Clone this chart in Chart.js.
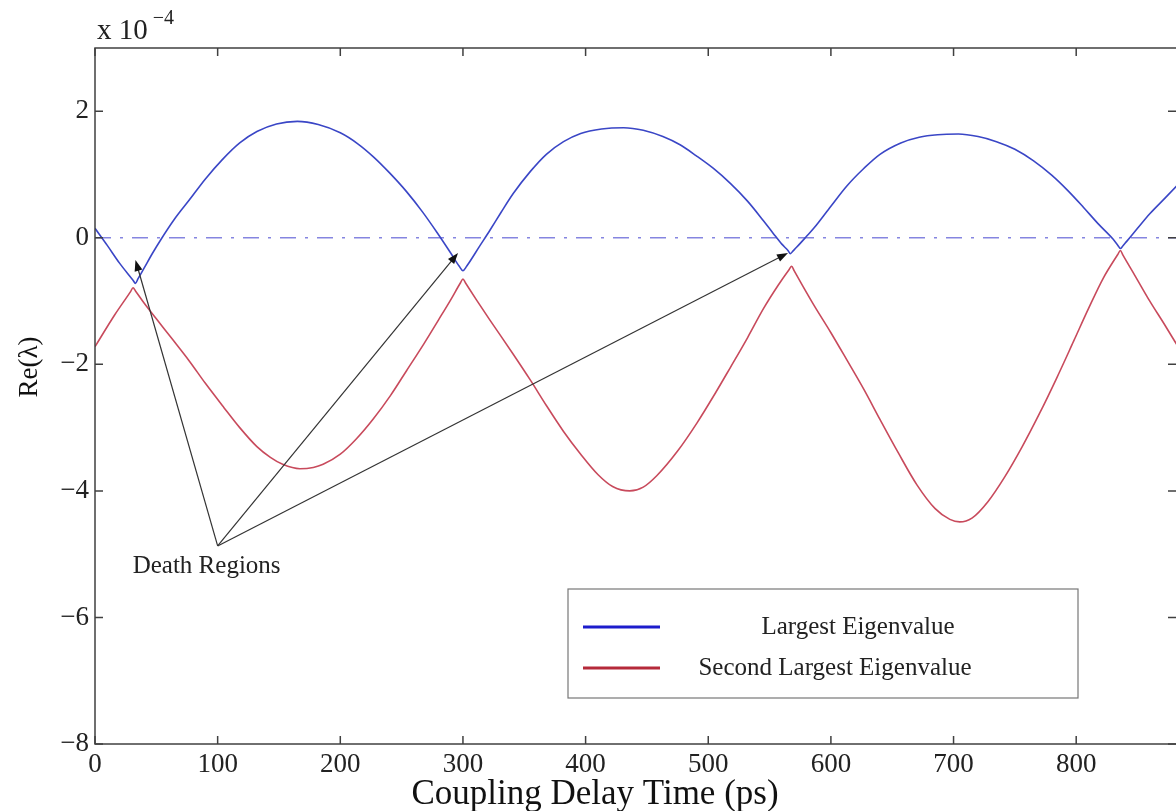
<!DOCTYPE html>
<html><head><meta charset="utf-8">
<script src="https://cdn.jsdelivr.net/npm/chart.js@4.4.1/dist/chart.umd.min.js"></script>
<style>html,body{margin:0;padding:0;background:#fff;overflow:hidden}#wrap{width:1178px;height:811px;position:relative}</style>
</head><body><div id="wrap"><canvas id="c"></canvas></div>
<script>
// ---- data (Re(lambda) in units of 1e-4) ----
const largestX = [0,10,20,31,33,35,40,47,53,65,77,90,104,118,132,148,165,182,200,214,227,240,254,267,279,290,297,300,303,314,322,331,341,355,368,382,396,413,431,447,463,477,490,504,518,532,545,553,560,565,567,569,572,580,586,600,613,627,640,657,672,687,704,720,735,750,765,780,793,806,818,830,834,836,838,841,850,860,872,883];
const largestY = [0.15,-0.12,-0.4,-0.67,-0.72,-0.65,-0.48,-0.24,-0.05,0.3,0.6,0.93,1.24,1.5,1.68,1.8,1.84,1.79,1.66,1.49,1.28,1.03,0.73,0.41,0.08,-0.24,-0.45,-0.52,-0.45,-0.12,0.12,0.4,0.7,1.05,1.32,1.52,1.65,1.72,1.74,1.7,1.6,1.47,1.3,1.1,0.86,0.58,0.27,0.07,-0.1,-0.2,-0.25,-0.21,-0.15,0.02,0.15,0.5,0.82,1.1,1.32,1.5,1.59,1.63,1.64,1.6,1.52,1.4,1.22,0.99,0.75,0.48,0.22,-0.02,-0.12,-0.17,-0.13,-0.06,0.15,0.38,0.62,0.84];
const secondX = [0,16,29,31,33,40,50,63,77,90,105,118,132,143,153,167,178,186,200,213,227,241,254,268,280,290,298,300,302,311,322,341,355,368,382,396,410,422,436,447,458,475,491,505,518,532,545,557,566,568,570,577,586,600,613,627,640,655,670,685,697,705,715,728,742,756,770,784,798,810,822,834,836,838,848,860,872,883];
const secondY = [-1.72,-1.22,-0.85,-0.79,-0.84,-1.03,-1.28,-1.6,-1.95,-2.3,-2.68,-3.0,-3.3,-3.47,-3.58,-3.65,-3.63,-3.58,-3.42,-3.18,-2.86,-2.49,-2.1,-1.68,-1.3,-0.98,-0.71,-0.65,-0.71,-0.98,-1.3,-1.84,-2.25,-2.65,-3.06,-3.42,-3.74,-3.93,-4.0,-3.94,-3.76,-3.37,-2.92,-2.48,-2.05,-1.58,-1.12,-0.75,-0.5,-0.45,-0.52,-0.76,-1.06,-1.5,-1.93,-2.4,-2.87,-3.4,-3.9,-4.28,-4.45,-4.49,-4.43,-4.17,-3.77,-3.3,-2.78,-2.22,-1.63,-1.12,-0.64,-0.26,-0.2,-0.27,-0.6,-1.0,-1.37,-1.72];
const zeroLineX = [0,883];
const zeroLineY = [0,0];
const xTicks = [0,100,200,300,400,500,600,700,800];
const yTicks = [-8,-6,-4,-2,0,2];
const seriesLabels = ['Largest Eigenvalue','Second Largest Eigenvalue'];
const xTitle = 'Coupling Delay Time (ps)';
const yTitle = 'Re(\u03bb)';
const exponentBase = 'x 10';
const exponentPower = '\u22124';
const annotationText = 'Death Regions';
const annotationPos = [91, -5.2];
const arrowFrom = [100, -4.87];
const arrowTipsX = [33, 296, 565];
const arrowTipsY = [-0.35, -0.24, -0.24];

const SERIF = '"Liberation Serif", "Times New Roman", serif';
const BLUE = '#3a46c6', RED = '#c84a5c';

function pts(xs, ys){ return xs.map((x,i)=>({x:x, y:ys[i]})); }

const overlay = {
  id:'overlay',
  afterDatasetsDraw(chart){
    const {ctx, chartArea:a, scales:{x,y}} = chart;
    ctx.save();
    // arrows
    ctx.strokeStyle = '#333'; ctx.fillStyle = '#111'; ctx.lineWidth = 1.2;
    const ox = x.getPixelForValue(arrowFrom[0]), oy = y.getPixelForValue(arrowFrom[1]);
    arrowTipsX.forEach((tx,i)=>{
      const px = x.getPixelForValue(tx), py = y.getPixelForValue(arrowTipsY[i]);
      const ang = Math.atan2(py-oy, px-ox);
      ctx.beginPath(); ctx.moveTo(ox,oy); ctx.lineTo(px - 6*Math.cos(ang), py - 6*Math.sin(ang)); ctx.stroke();
      const L = 11, W = 4;
      ctx.beginPath();
      ctx.moveTo(px,py);
      ctx.lineTo(px - L*Math.cos(ang) + W*Math.sin(ang), py - L*Math.sin(ang) - W*Math.cos(ang));
      ctx.lineTo(px - L*Math.cos(ang) - W*Math.sin(ang), py - L*Math.sin(ang) + W*Math.cos(ang));
      ctx.closePath(); ctx.fill();
    });
    ctx.fillStyle = '#222';
    ctx.font = '25px ' + SERIF; ctx.textAlign = 'center'; ctx.textBaseline = 'middle';
    ctx.fillText(annotationText, x.getPixelForValue(annotationPos[0]), y.getPixelForValue(annotationPos[1]));
    // legend box
    const bx = 568, by = 589, bw = 510, bh = 109;
    ctx.fillStyle = '#fff'; ctx.fillRect(bx,by,bw,bh);
    ctx.strokeStyle = '#777'; ctx.lineWidth = 1.2; ctx.strokeRect(bx,by,bw,bh);
    const rows = [[627, '#1c1ccc', 858], [668, '#b52a3a', 835]];
    rows.forEach((r,i)=>{
      ctx.strokeStyle = r[1]; ctx.lineWidth = 3;
      ctx.beginPath(); ctx.moveTo(583, r[0]); ctx.lineTo(660, r[0]); ctx.stroke();
      ctx.fillStyle = '#222'; ctx.font = '25px ' + SERIF; ctx.textAlign = 'center'; ctx.textBaseline = 'middle';
      ctx.fillText(chart.data.datasets[i].label, r[2], r[0]);
    });
    // frame with inward ticks
    ctx.strokeStyle = '#404040'; ctx.lineWidth = 1.5;
    ctx.strokeRect(a.left, a.top, a.right - a.left, a.bottom - a.top);
    ctx.beginPath();
    xTicks.forEach(v=>{ const p = x.getPixelForValue(v);
      ctx.moveTo(p, a.bottom); ctx.lineTo(p, a.bottom - 8);
      ctx.moveTo(p, a.top); ctx.lineTo(p, a.top + 8); });
    yTicks.forEach(v=>{ const p = y.getPixelForValue(v);
      ctx.moveTo(a.left, p); ctx.lineTo(a.left + 8, p);
      ctx.moveTo(a.right - 2, p); ctx.lineTo(a.right - 10, p); });
    ctx.stroke();
    // exponent label
    ctx.fillStyle = '#222'; ctx.textAlign = 'left'; ctx.textBaseline = 'alphabetic';
    ctx.font = '29px ' + SERIF; ctx.fillText(exponentBase, 97, 39);
    const w = ctx.measureText(exponentBase).width;
    ctx.font = '20px ' + SERIF; ctx.fillText(exponentPower, 97 + w + 5, 24);
    // axis titles
    ctx.fillStyle = '#111'; ctx.textAlign = 'center'; ctx.textBaseline = 'middle';
    ctx.font = '35px ' + SERIF; ctx.fillText(xTitle, 595, 795);
    ctx.translate(30, 367); ctx.rotate(-Math.PI/2);
    ctx.font = '27px ' + SERIF; ctx.fillText(yTitle, 0, 0);
    ctx.restore();
  }
};

new Chart(document.getElementById('c'), {
  type: 'scatter',
  data: { datasets: [
    { label: seriesLabels[0], data: pts(largestX, largestY), showLine:true, borderColor:BLUE, borderWidth:1.6, pointRadius:0, cubicInterpolationMode:'monotone' },
    { label: seriesLabels[1], data: pts(secondX, secondY), showLine:true, borderColor:RED, borderWidth:1.6, pointRadius:0, cubicInterpolationMode:'monotone' },
    { label: 'zero', data: pts(zeroLineX, zeroLineY), showLine:true, borderColor:'#8585e0', borderWidth:1.6, borderDash:[16,9,3,9], pointRadius:0 }
  ]},
  options: {
    responsive:true, maintainAspectRatio:false, animation:false,
    layout:{ padding:{ top:48, right:0, left:0, bottom:0 } },
    plugins:{ legend:{display:false}, tooltip:{enabled:false} },
    scales:{
      x:{ type:'linear', min:0, max:883,
        afterBuildTicks: s => { s.ticks = xTicks.map(v=>({value:v})); },
        afterFit: s => { s.height = 67; },
        grid:{ display:false, drawTicks:false }, border:{ display:false },
        ticks:{ color:'#222', font:{ family:SERIF, size:27 }, padding:5, maxRotation:0, autoSkip:false },
        title:{ display:false, text:xTitle }
      },
      y:{ type:'linear', min:-8, max:3,
        afterBuildTicks: s => { s.ticks = yTicks.map(v=>({value:v})); },
        afterFit: s => { s.width = 95; },
        grid:{ display:false, drawTicks:false }, border:{ display:false },
        ticks:{ color:'#222', font:{ family:SERIF, size:27 }, padding:6, autoSkip:false,
          callback: v => v < 0 ? '\u2212' + Math.abs(v) : String(v) },
        title:{ display:false, text:yTitle }
      }
    }
  },
  plugins:[overlay]
});
</script></body></html>
